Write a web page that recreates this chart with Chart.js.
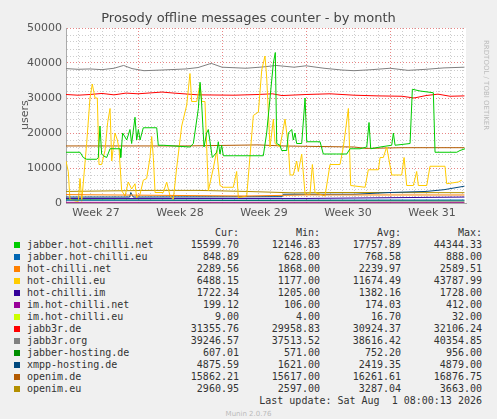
<!DOCTYPE html>
<html><head><meta charset="utf-8">
<script src="https://cdn.jsdelivr.net/npm/chart.js@4/dist/chart.umd.min.js"></script>
<style>
body{margin:0;background:#f0f0f0;width:497px;height:419px;overflow:hidden;position:relative;font-family:"DejaVu Sans",sans-serif}
#c{position:absolute;left:0;top:0}
.t{position:absolute;white-space:pre;color:#555}
#leg{position:absolute;left:0;top:227px;font-family:"DejaVu Sans Mono",monospace;font-size:10px;color:#333}
.row{position:absolute;height:12px;line-height:12px;white-space:pre}
.sq{position:absolute;width:6px;height:6px;top:3px;left:14px}
.n{position:absolute;left:27px}
.v{position:absolute;text-align:right}
</style></head><body>
<canvas id="c" width="497" height="225"></canvas>
<div class="t" style="left:0;width:497px;text-align:center;top:10px;font-size:13px;color:#444">Prosody offline messages counter - by month</div>
<div class="t" style="left:18px;top:100px;font-size:11px;transform:rotate(-90deg);transform-origin:left top;top:130px">users</div>
<div class="t" style="left:482px;top:40px;font-size:7px;color:#bbb;writing-mode:vertical-rl">RRDTOOL / TOBI OETIKER</div>
<div id="leg"></div>
<script>
const weekLabels=["Week 27","Week 28","Week 29","Week 30","Week 31"];
const weekLabelDays=[2.5,9.5,16.5,23.5,30.5];
const seriesNames=["jabber.hot-chilli.net","jabber.hot-chilli.eu","hot-chilli.net","hot-chilli.eu","hot-chilli.im","im.hot-chilli.net","im.hot-chilli.eu","jabb3r.de","jabb3r.org","jabber-hosting.de","xmpp-hosting.de","openim.de","openim.eu"];
const seriesColors=["#00CC00","#0066B3","#FF8000","#FFCC00","#330099","#990099","#CCFF00","#FF0000","#808080","#008F00","#00487D","#B35A00","#B38F00"];
const curVals=["15599.70","848.89","2289.56","6488.15","1722.34","199.12","9.00","31355.76","39246.57","607.01","4875.59","15862.21","2960.95"];
const minVals=["12146.83","628.00","1868.00","1177.00","1205.00","106.00","4.00","29958.83","37513.52","571.00","1621.00","15617.00","2597.00"];
const avgVals=["17757.89","768.58","2239.97","11674.49","1382.16","174.03","16.70","30924.37","38616.42","752.20","2419.35","16261.61","3287.04"];
const maxVals=["44344.33","888.00","2589.51","43787.99","1728.00","412.00","32.00","32106.24","40354.85","956.00","4879.00","16876.75","3663.00"];

const greenX=[0,1.17,1.44,1.72,2.56,2.69,2.83,2.97,3.11,3.39,3.67,4.5,4.56,4.72,5.06,5.33,5.47,5.75,5.89,6.03,6.17,6.44,7.56,7.69,8.11,10.33,10.61,11.03,11.17,11.31,11.5,11.72,11.86,12,12.19,12.56,12.69,12.83,12.97,13.11,13.94,16.44,16.72,17,17.28,17.44,17.56,17.83,17.97,18.39,18.53,18.81,18.94,19.08,19.22,19.64,19.92,20.06,21.17,21.44,22.56,23.39,23.67,24.5,25.06,25.25,25.39,26.17,27.14,27.28,27.42,28.67,28.86,29.5,30.61,30.75,32.56,32.83,33.25];
const greenY=[14500,14500,13000,12500,12500,13000,22000,14000,13500,13000,15500,15500,13000,20000,18000,21000,17000,24500,18000,21000,18000,21500,21500,16500,16500,16000,17000,27000,34500,28000,16000,20000,21000,17500,13000,14500,17500,14000,16500,13500,13500,13500,20000,30000,40000,43000,17000,16500,15000,15000,20000,21000,18000,20000,17000,17000,30000,17500,17500,14000,14000,14000,15500,15500,16000,23000,15500,16000,16500,20000,16500,17000,32500,32000,31500,14500,14500,15000,15500];
const yellowX=[0,0.19,0.33,0.89,1.03,1.17,1.31,1.72,2,2.19,2.42,2.61,2.75,2.97,3.25,3.47,3.67,3.81,4.08,4.28,4.42,4.64,4.92,5.19,5.47,5.75,5.89,6.17,6.44,6.72,7,7.14,7.28,7.42,8.11,8.39,8.67,8.94,9.22,9.64,10.06,10.33,10.47,10.89,11.17,11.31,11.58,11.86,12.28,12.56,12.83,13.11,13.94,14.22,14.36,15.06,15.61,16.03,16.31,16.58,16.72,17,17.28,17.42,17.83,18.25,18.53,18.67,18.94,19.22,19.36,19.64,19.92,20.33,20.53,20.75,21.58,22,22.83,23.11,23.53,23.72,24.92,25.19,26.03,26.17,26.44,26.72,27.14,27.97,28.17,28.39,28.94,29.22,29.36,30.06,30.33,31.58,31.72,32.69,32.97];
const yellowY=[12000,9000,1000,500,500,7000,500,17000,30000,34000,30000,30000,11000,11000,15000,23000,27000,12000,20000,18000,15500,3500,2000,6000,4000,5500,1500,2500,6500,7000,13000,19000,13000,3000,3000,6000,2000,1000,10000,22000,28000,37000,29000,29000,34000,29000,29000,3500,10000,15000,5000,4500,4500,9000,1500,2000,25000,26000,38000,42000,36000,16000,24000,17000,16000,24000,16000,8000,8000,12000,9000,14000,2500,2500,11000,3000,2000,11000,11000,16000,27000,5000,4500,9500,9500,13000,13000,16000,8000,8000,13000,5000,5000,9000,5000,5000,10500,10500,5500,6000,6500];
const grayX=[0,1,2,3,4,4.8,5.5,6.5,8,10,11,12.1,13,15,16.5,17.5,19,20,21.5,23,24,25.5,27,28.5,30,31.5,33.2];
const grayY=[38400,38200,38300,38100,38500,39300,38400,37800,38000,38300,38700,39900,38800,38500,38900,39300,38800,39200,38500,38000,37800,38100,38500,37900,38200,38600,38800];
const redX=[0,1,2,3,4,5,6,8,9,11,14,16,17.2,18,20,22,24,26,28,29,30,31,32,33.2];
const redY=[31000,30800,31000,31300,30900,31400,31200,31700,31400,30900,30800,31000,31200,30700,31000,31200,30800,30600,30500,30000,30700,31100,30500,30600];
const openimDeX=[0,10,16,18,24,25,28,33.2];
const openimDeY=[16300,16300,16600,16300,16000,15600,15800,15800];
const openimEuX=[0,7,11,15,19,22,33.2];
const openimEuY=[3300,3600,3600,3300,2900,3000,2950];
const hcNetX=[0,15,20,33.2];
const hcNetY=[2400,2000,2300,2290];
const xmppX=[0,5.3,5.4,5.6,18,18.1,24,27,30,31.5,33.2];
const xmppY=[1700,1700,3000,1700,1800,2500,2500,3000,3300,3800,4800];
const jhcEuX=[0,33.2];const jhcEuY=[800,850];
const hcImX=[0,20,33.2];const hcImY=[1300,1300,1700];
const jhDeX=[0,15,33.2];const jhDeY=[900,700,600];
const imNetX=[0,33.2];const imNetY=[200,200];
const imEuX=[0,33.2];const imEuY=[10,10];

const pairs=(xs,ys)=>xs.map((x,i)=>({x,y:ys[i]}));
const seriesData=[pairs(greenX,greenY),pairs(jhcEuX,jhcEuY),pairs(hcNetX,hcNetY),pairs(yellowX,yellowY),pairs(hcImX,hcImY),pairs(imNetX,imNetY),pairs(imEuX,imEuY),pairs(redX,redY),pairs(grayX,grayY),pairs(jhDeX,jhDeY),pairs(xmppX,xmppY),pairs(openimDeX,openimDeY),pairs(openimEuX,openimEuY)];
const datasets=seriesNames.map((n,i)=>({label:n,data:seriesData[i],borderColor:seriesColors[i],borderWidth:1,pointRadius:0,tension:0,fill:false}));

const bg={id:'bg',beforeDraw(c){const a=c.chartArea,x=c.ctx;x.save();x.fillStyle='#fff';x.fillRect(a.left,a.top,a.right-a.left,a.bottom-a.top);x.restore();}};
new Chart(document.getElementById('c'),{type:'line',data:{datasets},plugins:[bg],
options:{responsive:false,animation:false,layout:{padding:{left:0,right:31,top:28,bottom:0}},
plugins:{legend:{display:false},tooltip:{enabled:false}},
scales:{
x:{type:'linear',min:0,max:33.33,afterFit(s){s.height=22;},
afterBuildTicks(s){const t=[];for(let d=0;d<=33;d++)t.push({value:d});weekLabelDays.forEach(v=>t.push({value:v}));t.sort((a,b)=>a.value-b.value);s.ticks=t;},
ticks:{autoSkip:false,maxRotation:0,color:'#555',font:{family:'DejaVu Sans',size:11},padding:4,callback(v){const i=weekLabelDays.indexOf(v);return i>=0?weekLabels[i]:'';}},
grid:{drawTicks:false,color(c){const v=c.tick.value;if(!Number.isInteger(v))return 'rgba(0,0,0,0)';return (v+1)%7===0?'rgba(230,120,120,0.9)':'rgba(200,200,200,0.9)';}},
border:{color:'#aaa',dash:[1,2]}},
y:{min:0,max:50000,afterFit(s){s.width=66;},
ticks:{stepSize:2000,autoSkip:false,color:'#555',font:{family:'DejaVu Sans',size:11},padding:4,callback(v){return v%10000===0?String(v):'';}},
grid:{drawTicks:false,color(c){return c.tick.value%10000===0?'rgba(230,120,120,0.9)':'rgba(200,200,200,0.9)';}},
border:{color:'#aaa',dash:[1,2]}}}}});

const leg=document.getElementById('leg');
let h='<div class="row" style="top:0;left:0;width:497px"><span class="v" style="right:258px">Cur:</span><span class="v" style="right:177px">Min:</span><span class="v" style="right:96px">Avg:</span><span class="v" style="right:15px">Max:</span></div>';
seriesNames.forEach((n,i)=>{const t=12*(i+1);
h+=`<div class="row" style="top:${t}px;left:0;width:497px"><span class="sq" style="background:${seriesColors[i]}"></span><span class="n">${n}</span><span class="v" style="right:258px">${curVals[i]}</span><span class="v" style="right:177px">${minVals[i]}</span><span class="v" style="right:96px">${avgVals[i]}</span><span class="v" style="right:15px">${maxVals[i]}</span></div>`;});
h+=`<div class="row" style="top:${12*14}px;left:0;width:497px"><span class="v" style="right:15px">Last update: Sat Aug  1 08:00:13 2026</span></div>`;
h+=`<div class="row" style="top:${12*15+1}px;left:0;width:497px;text-align:center;font-family:'DejaVu Sans';font-size:7px;color:#bbb">Munin 2.0.76</div>`;
leg.innerHTML=h;
</script></body></html>
